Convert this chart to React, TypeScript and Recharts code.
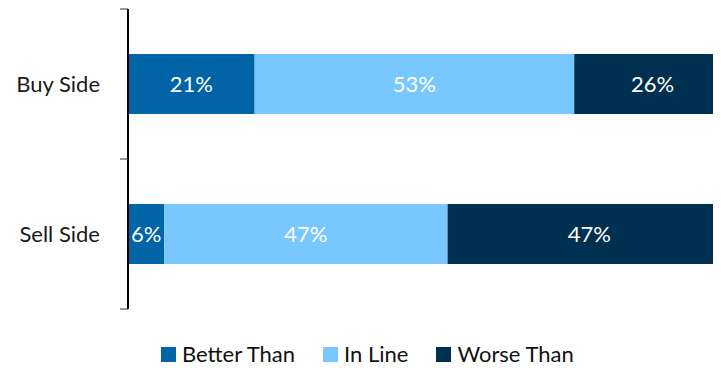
import React from 'react';
import { BarChart, Bar, XAxis, YAxis, Legend, LabelList } from 'recharts';

const categories = ['Buy Side', 'Sell Side'];
const betterThan = [21, 6];
const inLine = [53, 47];
const worseThan = [26, 47];
const seriesNames = ['Better Than', 'In Line', 'Worse Than'];
const seriesColors = ['#0064A6', '#79C7FF', '#00304F'];
const boundaryTicks = [0, 0.5, 1];

const data = categories.map((c, i) => ({
  name: c,
  better: betterThan[i],
  inline: inLine[i],
  worse: worseThan[i],
}));

const FONT = 'Lato, "Open Sans", sans-serif';

const renderLegend = () => (
  <div style={{ display: 'flex', alignItems: 'center', fontFamily: FONT, fontSize: 22, color: '#111' }}>
    {seriesNames.map((n, i) => (
      <div key={n} style={{ display: 'flex', alignItems: 'center', marginRight: 28 }}>
        <span style={{ display: 'inline-block', width: 15, height: 15, background: seriesColors[i], marginRight: 6 }} />
        <span style={{ lineHeight: '24px' }}>{n}</span>
      </div>
    ))}
  </div>
);

const fmt = (v: any) => `${v}%`;
const EmptyTick = () => <g />;

export default function App() {
  return (
    <div style={{ width: 713, height: 360, overflow: 'hidden' }}>
      <BarChart
        width={740}
        height={360}
        data={data}
        layout="vertical"
        barSize={60}
        margin={{ top: 1, right: 17, left: 0, bottom: 35 }}
      >
        <XAxis type="number" domain={[0, 100]} hide />
        <YAxis
          yAxisId={0}
          type="number"
          orientation="left"
          domain={[0, 1]}
          ticks={boundaryTicks}
          interval={0}
          width={1}
          tick={EmptyTick}
          tickSize={8}
          axisLine={{ stroke: '#000', strokeWidth: 2 }}
          tickLine={{ stroke: '#333', strokeWidth: 1 }}
        />
        <YAxis
          yAxisId={1}
          type="category"
          dataKey="name"
          width={119}
          axisLine={false}
          tickLine={false}
          tickSize={0}
          tickMargin={27}
          tick={{ fill: '#1a1a1a', fontSize: 22, fontFamily: FONT }}
        />
        <Legend
          content={renderLegend}
          wrapperStyle={{ top: 334, left: 153, width: 520, height: 24 }}
        />
        <Bar yAxisId={1} dataKey="better" stackId="a" fill={seriesColors[0]} name={seriesNames[0]} isAnimationActive={false}>
          <LabelList dataKey="better" position="center" formatter={fmt} fill="#fff" style={{ fontSize: 22, fontFamily: FONT }} />
        </Bar>
        <Bar yAxisId={1} dataKey="inline" stackId="a" fill={seriesColors[1]} name={seriesNames[1]} isAnimationActive={false}>
          <LabelList dataKey="inline" position="center" formatter={fmt} fill="#fff" style={{ fontSize: 22, fontFamily: FONT }} />
        </Bar>
        <Bar yAxisId={1} dataKey="worse" stackId="a" fill={seriesColors[2]} name={seriesNames[2]} isAnimationActive={false}>
          <LabelList dataKey="worse" position="center" formatter={fmt} fill="#fff" style={{ fontSize: 22, fontFamily: FONT }} />
        </Bar>
      </BarChart>
    </div>
  );
}
